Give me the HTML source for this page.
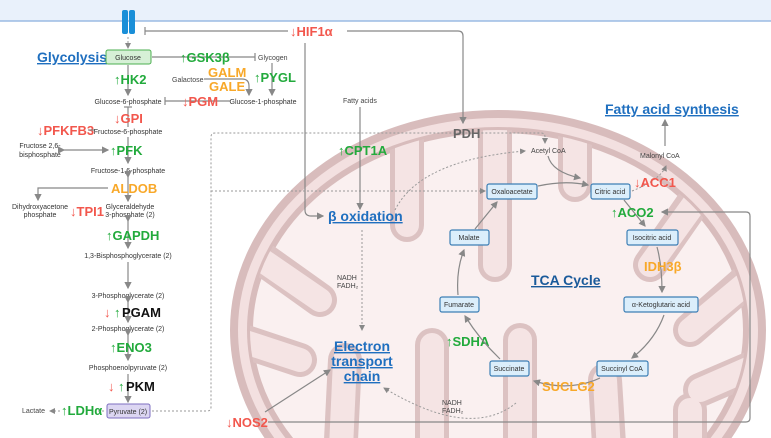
<!DOCTYPE html>
<html><head><meta charset="utf-8"><style>
html,body{margin:0;padding:0;background:#fff;width:771px;height:438px;overflow:hidden}
svg{display:block;font-family:"Liberation Sans",sans-serif}
.s{font-size:7px;fill:#444}
.g{fill:#22aa3c;font-weight:bold;font-size:13px}
.r{fill:#f2574d;font-weight:bold;font-size:13px}
.o{fill:#f8a829;font-weight:bold;font-size:13px}
.k{fill:#111;font-weight:bold;font-size:13px}
.t{fill:#1f6fbf;font-weight:bold;font-size:14px;text-decoration:underline}
.bx{fill:#dbeefb;stroke:#3d7fb5;stroke-width:1.2}
.bt{font-size:7px;fill:#333;text-anchor:middle}
.ln{stroke:#888;stroke-width:1.2;fill:none}
.dt{stroke:#999;stroke-width:1;fill:none;stroke-dasharray:2 2}
</style></head><body>
<svg width="771" height="438" viewBox="0 0 771 438">
<defs>
<marker id="a" markerWidth="6" markerHeight="6" refX="5" refY="3" orient="auto"><path d="M0,0 L6,3 L0,6z" fill="#888"/></marker>
<clipPath id="ic"><ellipse cx="498" cy="330" rx="248" ry="200"/></clipPath>
</defs>
<rect x="0" y="0" width="771" height="21" fill="#e9f1fb"/>
<line x1="0" y1="21" x2="771" y2="21" stroke="#9bbbe3" stroke-width="1.5"/>
<!-- mitochondrion -->
<ellipse cx="498" cy="330" rx="264" ry="216" fill="#f3e0e0" stroke="#d8bcbc" stroke-width="8"/>
<ellipse cx="498" cy="330" rx="248" ry="200" fill="#faf0f0" stroke="#d8bcbc" stroke-width="6"/>
<g clip-path="url(#ic)" fill="none" stroke-linecap="round">
<g stroke="#dcc2c2" stroke-width="34">
<path d="M407 110 L407 225"/><path d="M495 110 L495 265"/><path d="M575 110 L575 185"/>
<path d="M730 150 L650 265"/><path d="M770 260 L690 330"/><path d="M770 360 L700 390"/>
<path d="M250 250 L320 300"/><path d="M240 340 L300 360"/>
<path d="M340 460 L345 360"/><path d="M432 460 L432 345"/><path d="M520 460 L520 340"/><path d="M610 460 L605 380"/><path d="M690 460 L690 410"/>
</g>
<g stroke="#f5e4e4" stroke-width="24">
<path d="M407 100 L407 225"/><path d="M495 100 L495 265"/><path d="M575 100 L575 185"/>
<path d="M740 140 L650 265"/><path d="M780 255 L690 330"/><path d="M780 355 L700 390"/>
<path d="M240 245 L320 300"/><path d="M230 337 L300 360"/>
<path d="M340 470 L345 360"/><path d="M432 470 L432 345"/><path d="M520 470 L520 340"/><path d="M610 470 L605 380"/><path d="M690 470 L690 410"/>
</g>
</g>
<!-- channel -->
<rect x="122" y="10" width="6" height="24" rx="2" fill="#1a8fd8"/><rect x="129" y="10" width="6" height="24" rx="2" fill="#1a8fd8"/>
<line x1="128" y1="37" x2="128" y2="48" class="dt" marker-end="url(#a)"/>
<!-- HIF1a -->
<line x1="145" y1="31" x2="288" y2="31" class="ln"/><line x1="145" y1="27" x2="145" y2="35" class="ln"/>
<text x="290" y="36" class="r" font-size="14">↓HIF1α</text>
<path d="M347 31 H458 Q463 31 463 36 V123" class="ln" marker-end="url(#a)"/>
<path d="M305 43 V210 Q305 216 311 216 H323" class="ln" marker-end="url(#a)"/>
<!-- glycolysis -->
<text x="37" y="62" class="t">Glycolysis</text>
<rect x="106" y="50" width="45" height="14" rx="2" fill="#d6f0d6" stroke="#4caf50"/>
<text x="128" y="60" class="bt">Glucose</text>
<line x1="152" y1="57" x2="255" y2="57" class="ln"/><line x1="255" y1="53" x2="255" y2="61" class="ln"/>
<text x="180" y="62" class="g">↑GSK3β</text>
<text x="258" y="60" class="s">Glycogen</text>
<line x1="128" y1="65" x2="128" y2="95" class="ln" marker-end="url(#a)"/>
<text x="114" y="84" class="g">↑HK2</text>
<text x="128" y="104" class="bt" fill="#444">Glucose-6-phosphate</text>
<line x1="165" y1="101" x2="230" y2="101" class="ln"/><line x1="165" y1="97" x2="165" y2="105" class="ln"/>
<text x="182" y="106" class="r">↓PGM</text>
<text x="263" y="104" class="bt">Glucose-1-phosphate</text>
<text x="172" y="82" class="s">Galactose</text>
<path d="M204 79 H242 Q249 79 249 86 V95" class="ln" marker-end="url(#a)"/>
<text x="208" y="77" class="o">GALM</text><text x="209" y="91" class="o">GALE</text>
<line x1="272" y1="63" x2="272" y2="95" class="ln" marker-end="url(#a)"/>
<text x="254" y="82" class="g">↑PYGL</text>
<line x1="128" y1="107" x2="128" y2="127" class="ln"/><line x1="124" y1="107" x2="132" y2="107" class="ln"/>
<text x="114" y="123" class="r">↓GPI</text>
<text x="37" y="135" class="r">↓PFKFB3</text>
<line x1="88" y1="130" x2="95" y2="130" class="ln"/>
<text x="128" y="134" class="bt">Fructose-6-phosphate</text>
<text x="40" y="148" class="bt">Fructose 2,6-</text><text x="40" y="157" class="bt">bisphosphate</text>
<line x1="64" y1="150" x2="108" y2="150" class="ln" marker-end="url(#a)" marker-start="url(#a)"/>
<line x1="128" y1="137" x2="128" y2="163" class="ln" marker-end="url(#a)"/>
<text x="110" y="155" class="g">↑PFK</text>
<text x="128" y="173" class="bt">Fructose-1,6-phosphate</text>
<line x1="128" y1="177" x2="128" y2="201" class="ln" marker-end="url(#a)" marker-start="url(#a)"/>
<path d="M108 188 H38 V200" class="ln" marker-end="url(#a)"/>
<text x="111" y="193" class="o">ALDOB</text>
<text x="40" y="209" class="bt">Dihydroxyacetone</text><text x="40" y="217" class="bt">phosphate</text>
<text x="70" y="216" class="r">↓TPI1</text>
<text x="130" y="209" class="bt">Glyceraldehyde</text><text x="130" y="217" class="bt">3-phosphate (2)</text>
<line x1="128" y1="221" x2="128" y2="248" class="ln" marker-end="url(#a)" marker-start="url(#a)"/>
<text x="106" y="240" class="g">↑GAPDH</text>
<text x="128" y="258" class="bt">1,3-Bisphosphoglycerate (2)</text>
<line x1="128" y1="262" x2="128" y2="288" class="ln" marker-end="url(#a)"/>
<text x="128" y="298" class="bt">3-Phosphoglycerate (2)</text>
<line x1="128" y1="302" x2="128" y2="322" class="ln" marker-end="url(#a)" marker-start="url(#a)"/>
<text x="104" y="317" class="r">↓</text><text x="114" y="317" class="g">↑</text><text x="122" y="317" class="k">PGAM</text>
<text x="128" y="331" class="bt">2-Phosphoglycerate (2)</text>
<line x1="128" y1="335" x2="128" y2="360" class="ln" marker-end="url(#a)" marker-start="url(#a)"/>
<text x="110" y="352" class="g">↑ENO3</text>
<text x="128" y="370" class="bt">Phosphoenolpyruvate (2)</text>
<line x1="128" y1="374" x2="128" y2="402" class="ln" marker-end="url(#a)"/>
<text x="108" y="391" class="r">↓</text><text x="118" y="391" class="g">↑</text><text x="126" y="391" class="k">PKM</text>
<rect x="107" y="404" width="43" height="14" rx="2" fill="#dcd6f2" stroke="#7e6fc0"/>
<text x="128" y="414" class="bt">Pyruvate (2)</text>
<line x1="104" y1="411" x2="50" y2="411" class="dt" marker-end="url(#a)"/>
<text x="22" y="413" class="s">Lactate</text>
<rect x="60" y="403" width="38" height="14" fill="#fff"/>
<text x="61" y="415" class="g">↑LDHα</text>
<path d="M152 411 H207 Q211 411 211 407 V137 Q211 133 215 133 H541 Q545 133 545 137 V143" class="dt" marker-end="url(#a)"/>
<path d="M211 191 H485" class="dt" marker-end="url(#a)"/>
<text x="453" y="138" class="k" style="fill:#666">PDH</text>
<!-- fatty acids -->
<text x="343" y="103" class="s">Fatty acids</text>
<line x1="360" y1="107" x2="360" y2="209" class="ln" marker-end="url(#a)"/>
<text x="338" y="155" class="g">↑CPT1A</text>
<text x="328" y="221" class="t" font-size="15">β oxidation</text>
<path d="M395 210 Q420 160 525 151" class="dt" marker-end="url(#a)"/>
<text x="531" y="153" class="s">Acetyl CoA</text>
<path d="M548 156 Q552 172 580 178" class="ln" marker-end="url(#a)"/>
<line x1="362" y1="230" x2="362" y2="330" class="dt" marker-end="url(#a)"/>
<text x="337" y="280" class="s" font-size="6">NADH</text><text x="337" y="288" class="s" font-size="6">FADH₂</text>
<text x="362" y="351" class="t" text-anchor="middle" font-size="15">Electron</text>
<text x="362" y="366" class="t" text-anchor="middle" font-size="15">transport</text>
<text x="362" y="381" class="t" text-anchor="middle" font-size="15">chain</text>
<text x="226" y="427" class="r">↓NOS2</text>
<line x1="265" y1="412" x2="330" y2="370" class="ln" marker-end="url(#a)"/>
<path d="M268 422 H746 Q750 422 750 418 V216 Q750 212 746 212 H662" class="ln" marker-end="url(#a)"/>
<!-- TCA -->
<text x="605" y="114" class="t">Fatty acid synthesis</text>
<line x1="665" y1="146" x2="665" y2="120" class="ln" marker-end="url(#a)"/>
<text x="640" y="158" class="s">Malonyl CoA</text>
<path d="M632 191 Q660 180 666 166" class="dt" marker-end="url(#a)"/>
<text x="634" y="187" class="r">↓ACC1</text>
<path d="M538 186 Q565 180 588 185" class="ln" marker-end="url(#a)"/>
<rect x="487" y="184" width="50" height="15" rx="2" class="bx"/><text x="512" y="194" class="bt">Oxaloacetate</text>
<rect x="591" y="184" width="39" height="15" rx="2" class="bx"/><text x="610" y="194" class="bt">Citric acid</text>
<line x1="624" y1="200" x2="645" y2="226" class="ln" marker-end="url(#a)"/>
<text x="611" y="217" class="g">↑ACO2</text>
<rect x="450" y="230" width="39" height="15" rx="2" class="bx"/><text x="469" y="240" class="bt">Malate</text>
<line x1="475" y1="229" x2="497" y2="202" class="ln" marker-end="url(#a)"/>
<rect x="627" y="230" width="51" height="15" rx="2" class="bx"/><text x="652" y="240" class="bt">Isocitric acid</text>
<path d="M657 247 Q662 265 662 292" class="ln" marker-end="url(#a)"/>
<text x="644" y="271" class="o">IDH3β</text>
<text x="531" y="285" class="t" style="fill:#1a5a9a">TCA Cycle</text>
<rect x="440" y="297" width="39" height="15" rx="2" class="bx"/><text x="459" y="307" class="bt">Fumarate</text>
<path d="M458 295 Q456 270 464 250" class="ln" marker-end="url(#a)"/>
<rect x="624" y="297" width="74" height="15" rx="2" class="bx"/><text x="661" y="307" class="bt">α-Ketoglutaric acid</text>
<path d="M664 315 Q655 340 632 358" class="ln" marker-end="url(#a)"/>
<text x="446" y="346" class="g">↑SDHA</text>
<rect x="490" y="361" width="39" height="15" rx="2" class="bx"/><text x="509" y="371" class="bt">Succinate</text>
<path d="M500 359 Q480 340 465 316" class="ln" marker-end="url(#a)"/>
<rect x="597" y="361" width="51" height="15" rx="2" class="bx"/><text x="622" y="371" class="bt">Succinyl CoA</text>
<path d="M600 378 Q570 392 534 381" class="ln" marker-end="url(#a)"/>
<text x="542" y="391" class="o">SUCLG2</text>
<path d="M516 403 Q470 440 384 388" class="dt" marker-end="url(#a)"/>
<text x="442" y="405" class="s" font-size="6">NADH</text><text x="442" y="413" class="s" font-size="6">FADH₂</text>
</svg>
</body></html>
